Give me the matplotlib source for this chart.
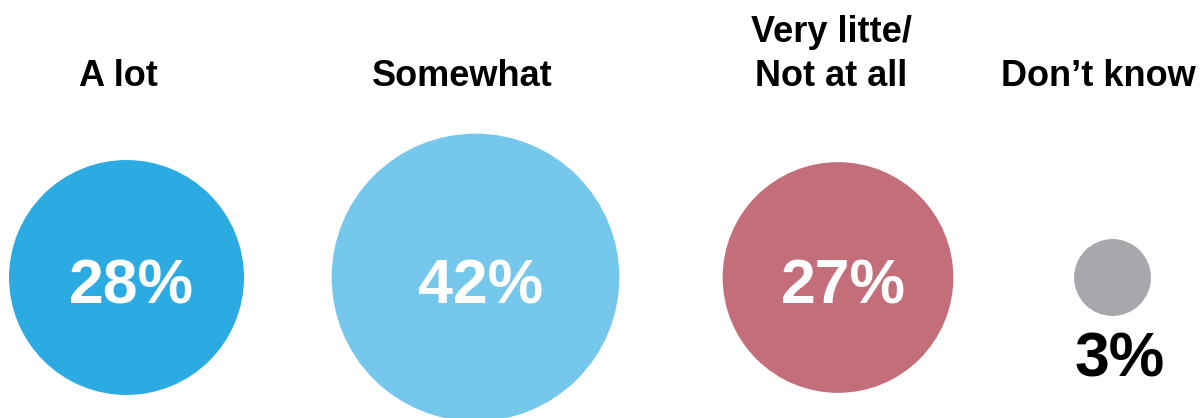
import numpy as np
import matplotlib.pyplot as plt
from matplotlib.patches import Circle

categories = ['A lot', 'Somewhat', 'Very litte/\nNot at all', 'Don\u2019t know']
values = [28, 42, 27, 3]
colors = ['#2BABE2', '#75C8EC', '#C46E7A', '#A7A8AC']

plt.rcParams['font.family'] = ['Liberation Sans', 'DejaVu Sans']

fig = plt.figure(figsize=(12.04, 4.18), dpi=100)
ax = fig.add_axes([0, 0, 1, 1])
ax.set_xlim(0, 1204)
ax.set_ylim(418, 0)
ax.set_aspect('equal')
ax.axis('off')

# circle area proportional to the share
scale = 22.2
centers_x = [126.5, 475.5, 838, 1112.5]
label_x = [118, 462, 831, 1098]
cy = 277.5

for i, (cat, val, col) in enumerate(zip(categories, values, colors)):
    r = scale * np.sqrt(val)
    ax.add_patch(Circle((centers_x[i], cy), r, color=col, lw=0))
    txt = f'{val}%'
    if r > 60:
        ax.text(centers_x[i] + 5, cy + 9, txt, color='white', fontsize=45,
                fontweight='bold', ha='center', va='center')
    else:
        ax.text(centers_x[i] + 7, cy + r + 44, txt, color='black', fontsize=45,
                fontweight='bold', ha='center', va='center')
    ax.text(label_x[i], 86, cat, color='black', fontsize=26, fontweight='bold',
            ha='center', va='baseline', linespacing=1.35)

fig.savefig('out.png', dpi=100)
